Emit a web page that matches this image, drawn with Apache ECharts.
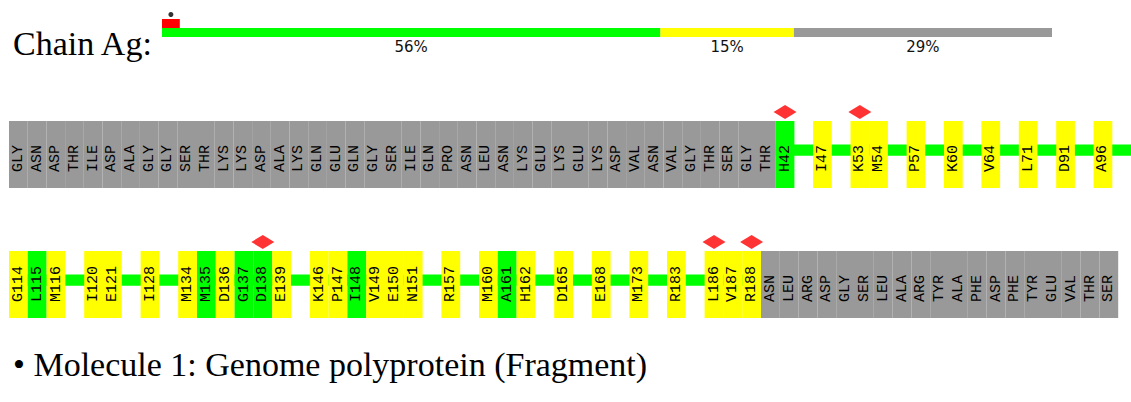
<!DOCTYPE html>
<html><head><meta charset="utf-8">
<script src="https://cdn.jsdelivr.net/npm/echarts@6/dist/echarts.min.js"></script>
<style>html,body{margin:0;padding:0;background:#fff}#c{width:1131px;height:402px}</style>
</head><body><div id="c"></div>
<script>
// ---- data ----
const chainLabel = 'Chain Ag:';
const moleculeTitle = '\u2022 Molecule 1: Genome polyprotein (Fragment)';
const summaryNames = ['good', 'fair', 'unmodelled'];
const summaryValues = [56, 15, 29];
const summaryLabels = ['56%', '15%', '29%'];
const outlierShare = [2];
const row1Slots = ['GLY','ASN','ASP','THR','ILE','ASP','ALA','GLY','GLY','SER','THR','LYS','LYS','ASP','ALA','LYS','GLN','GLU','GLN','GLY','SER','ILE','GLN','PRO','ASN','LEU','ASN','LYS','GLU','LYS','GLU','LYS','ASP','VAL','ASN','VAL','GLY','THR','SER','GLY','THR',
  'H42','','I47','','K53','M54','','P57','','K60','','V64','','L71','','D91','','A96',''];
const row2Slots = ['G114','L115','M116','','I120','E121','','I128','','M134','M135','D136','G137','D138','E139','','K146','P147','I148','V149','E150','N151','','R157','','M160','A161','H162','','D165','','E168','','M173','','R183','','L186','V187','R188',
  'ASN','LEU','ARG','ASP','GLY','SER','LEU','ALA','ARG','TYR','ALA','PHE','ASP','PHE','TYR','GLU','VAL','THR','SER'];
const greenResidues = ['H42','L115','M135','G137','D138','I148','A161'];
const outlierResidues = ['H42','K53','D138','L186','R188'];

// ---- style ----
const GREEN = '#00ff00', YELLOW = '#ffff00', GREY = '#999999', RED = '#ff0000';
const UNIT = 18.8;
const rows = [
  { slots: row1Slots, top: 121 },
  { slots: row2Slots, top: 251 }
];

function kind(s) {
  if (s === '') return 'gap';
  if (!/\d/.test(s)) return 'grey';
  return greenResidues.includes(s) ? 'green' : 'yellow';
}

const chart = echarts.init(document.getElementById('c'), null, { renderer: 'svg' });

const grid = [
  { left: 162, width: 890, top: 28, height: 9 },   // summary bar
  { left: 162, width: 890, top: 19, height: 9 }    // outlier bar
];
const xAxis = [
  { gridIndex: 0, type: 'value', min: 0, max: 100, show: false },
  { gridIndex: 1, type: 'value', min: 0, max: 100, show: false }
];
const yAxis = [
  { gridIndex: 0, type: 'category', data: ['Ag'], show: false },
  { gridIndex: 1, type: 'category', data: ['Ag'], show: false }
];
const series = [];
const summaryColors = [GREEN, YELLOW, GREY];
summaryValues.forEach((v, k) => {
  series.push({
    type: 'bar', name: summaryNames[k], xAxisIndex: 0, yAxisIndex: 0, stack: 'sum',
    barWidth: '100%', data: [v], itemStyle: { color: summaryColors[k] }, silent: true,
    label: { show: true, position: 'bottom', distance: 2, formatter: () => summaryLabels[k],
      fontFamily: 'DejaVu Sans', fontSize: 15, color: '#111' }
  });
});
series.push({ type: 'bar', xAxisIndex: 1, yAxisIndex: 1, barWidth: '100%', data: outlierShare,
  itemStyle: { color: RED }, silent: true });
series.push({ type: 'scatter', xAxisIndex: 1, yAxisIndex: 1, data: [[outlierShare[0] / 2, 'Ag']],
  symbol: 'circle', symbolSize: 5, symbolOffset: [0, -9], itemStyle: { color: '#000' }, silent: true });

rows.forEach((row, r) => {
  const gi = grid.length;
  const n = row.slots.length;
  grid.push({ left: 9, top: row.top, height: 67, width: n * UNIT });
  xAxis.push({ gridIndex: gi, type: 'value', min: 0, max: n, show: false });
  yAxis.push({ gridIndex: gi, type: 'value', min: 0, max: 1, show: false });
  // connecting line span
  let first = -1, last = -1;
  row.slots.forEach((s, i) => { if (kind(s) !== 'grey') { if (first < 0) first = i; last = i; } });
  series.push({
    type: 'custom', xAxisIndex: gi, yAxisIndex: gi, silent: true, z: 1,
    data: [[first, last + 1]],
    renderItem: (params, api) => {
      const a = api.coord([api.value(0), 0.65]);
      const b = api.coord([api.value(1), 0.48]);
      return { type: 'rect', shape: { x: a[0], y: a[1], width: b[0] - a[0], height: b[1] - a[1] }, style: { fill: GREEN } };
    }
  });
  series.push({
    type: 'custom', xAxisIndex: gi, yAxisIndex: gi, silent: true, z: 2,
    data: row.slots.map((s, i) => [i]),
    renderItem: (params, api) => {
      const i = api.value(0);
      const s = row.slots[params.dataIndex];
      const k = kind(s);
      if (k === 'gap') return null;
      const p0 = api.coord([i, 1]);
      const p1 = api.coord([i + 1, 0]);
      const fill = k === 'grey' ? GREY : (k === 'green' ? GREEN : YELLOW);
      return { type: 'group', children: [
        { type: 'rect', shape: { x: p0[0], y: p0[1], width: p1[0] - p0[0], height: p1[1] - p0[1] }, style: { fill } },
        { type: 'text', x: (p0[0] + p1[0]) / 2, y: p1[1] - 16, rotation: Math.PI / 2,
          style: { text: s, font: '15px "Liberation Mono"', fill: '#000', align: 'left', verticalAlign: 'middle' } }
      ] };
    }
  });
  const outs = [];
  row.slots.forEach((s, i) => { if (outlierResidues.includes(s)) outs.push([i + 0.5, 1]); });
  series.push({ type: 'scatter', xAxisIndex: gi, yAxisIndex: gi, data: outs, symbol: 'diamond',
    symbolSize: [23, 14], symbolOffset: [0, -9], itemStyle: { color: RED }, silent: true, z: 3 });
});

chart.setOption({
  animation: false,
  title: [
    { text: chainLabel, left: 8, top: 21, textStyle: { fontFamily: 'Liberation Serif', fontSize: 34, fontWeight: 'normal', color: '#000' } },
    { text: moleculeTitle, left: 8, top: 342, textStyle: { fontFamily: 'Liberation Serif', fontSize: 34, fontWeight: 'normal', color: '#000' } }
  ],
  grid, xAxis, yAxis, series
});
</script>
</body></html>
